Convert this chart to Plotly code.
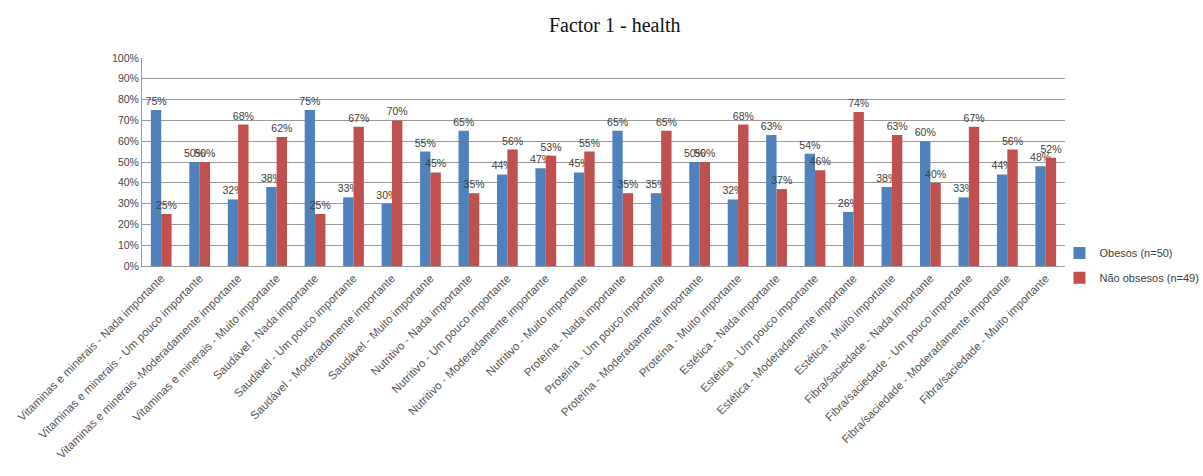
import plotly.graph_objects as go

categories = [
    "Vitaminas e minerais - Nada importante",
    "Vitaminas e minerais - Um pouco importante",
    "Vitaminas e minerais -Moderadamente importante",
    "Vitaminas e minerais - Muito importante",
    "Saudável - Nada importante",
    "Saudável - Um pouco importante",
    "Saudável - Moderadamente importante",
    "Saudável - Muito importante",
    "Nutritivo - Nada importante",
    "Nutritivo - Um pouco importante",
    "Nutritivo - Moderadamente importante",
    "Nutritivo - Muito importante",
    "Proteína - Nada importante",
    "Proteína - Um pouco importante",
    "Proteína - Moderadamente importante",
    "Proteína - Muito importante",
    "Estética - Nada importante",
    "Estética - Um pouco importante",
    "Estética - Moderadamente importante",
    "Estética - Muito importante",
    "Fibra/saciedade - Nada importante",
    "Fibra/saciedade - Um pouco importante",
    "Fibra/saciedade - Moderadamente importante",
    "Fibra/saciedade - Muito importante",
]

obesos = [75, 50, 32, 38, 75, 33, 30, 55, 65, 44, 47, 45,
          65, 35, 50, 32, 63, 54, 26, 38, 60, 33, 44, 48]
nao_obesos = [25, 50, 68, 62, 25, 67, 70, 45, 35, 56, 53, 55,
              35, 65, 50, 68, 37, 46, 74, 63, 40, 67, 56, 52]

y_ticks = list(range(0, 101, 10))
y_tick_labels = [f"{v}%" for v in y_ticks]

SANS = "Liberation Sans, Arial, sans-serif"
label_font = dict(family=SANS, size=10.5, color="#404040")

fig = go.Figure()
fig.add_trace(go.Bar(
    x=categories, y=obesos, name="Obesos (n=50)",
    marker=dict(color="#4F81BD", line=dict(width=0)),
    text=[f"{v}%" for v in obesos], textposition="outside",
    textfont=label_font, constraintext="none", cliponaxis=False,
    legend="legend",
))
fig.add_trace(go.Bar(
    x=categories, y=nao_obesos, name="Não obsesos (n=49)",
    marker=dict(color="#C0504D", line=dict(width=0)),
    text=[f"{v}%" for v in nao_obesos], textposition="outside",
    textfont=label_font, constraintext="none", cliponaxis=False,
    legend="legend2",
))

legend_common = dict(
    xanchor="left", yanchor="middle", bgcolor="rgba(0,0,0,0)",
    font=dict(family=SANS, size=11, color="#404040"),
    itemwidth=30,
)

fig.update_layout(
    width=1203, height=476,
    margin=dict(l=142, r=138, t=58, b=210, autoexpand=False),
    paper_bgcolor="white", plot_bgcolor="white",
    barmode="group", bargap=0.46, bargroupgap=0.0,
    title=dict(text="Factor 1 - health", x=0.511, xanchor="center",
               y=0.947, yanchor="middle",
               font=dict(family="Liberation Serif, Times New Roman, serif", size=20, color="#111111")),
    xaxis=dict(
        tickangle=-45, ticks="", showgrid=False, automargin=False,
        showline=True, linecolor="#9a9a9a", linewidth=1,
        tickfont=dict(family=SANS, size=11.5, color="#555555"),
    ),
    yaxis=dict(
        range=[0, 100], tickvals=y_ticks, ticktext=y_tick_labels,
        showgrid=True, gridcolor="#9a9a9a", gridwidth=1, automargin=False,
        showline=True, linecolor="#9a9a9a", linewidth=1,
        ticks="", zeroline=False,
        tickfont=dict(family=SANS, size=10.5, color="#444444"),
    ),
    legend=dict(x=0.994, y=0.063, **legend_common),
    legend2=dict(x=0.994, y=-0.057, **legend_common),
    showlegend=True,
)

fig.write_html("out.html")
